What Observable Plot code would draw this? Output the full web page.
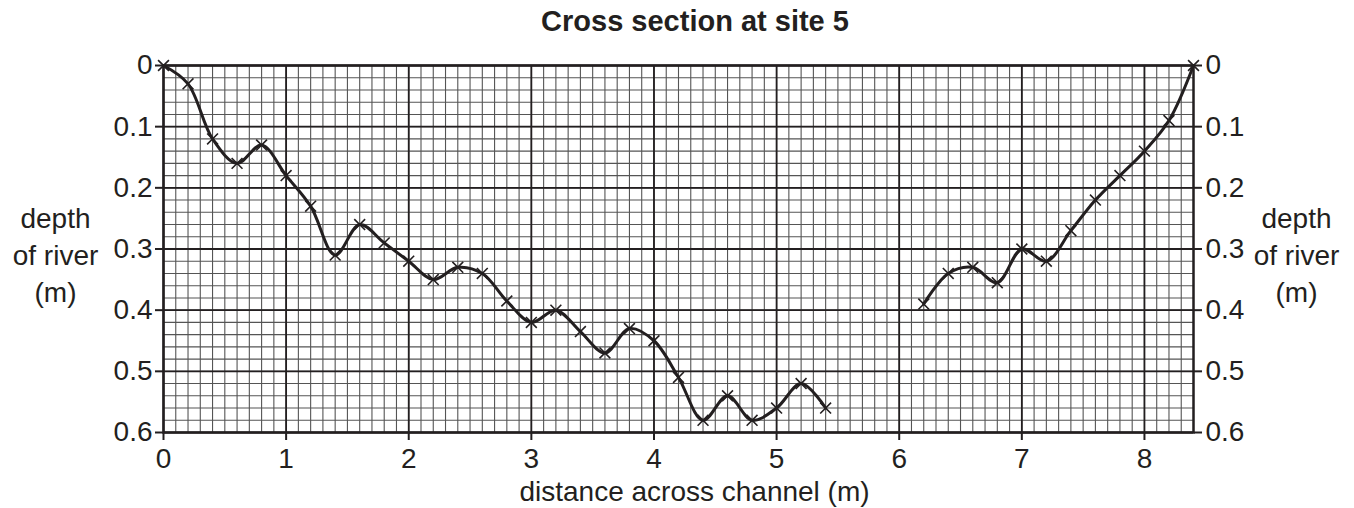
<!DOCTYPE html>
<html>
<head>
<meta charset="utf-8">
<script src="https://cdn.jsdelivr.net/npm/d3@7"></script>
<script src="https://cdn.jsdelivr.net/npm/@observablehq/plot@0.6"></script>
<style>
  body { margin: 0; background: #fff; font-family: "Liberation Sans", Arial, sans-serif; color: #231f20; }
  #title { height: 42px; line-height: 42px; font-size: 29px; font-weight: bold; text-align: center; width: 1354px; box-sizing: border-box; padding-left: 36px; }
  svg { overflow: visible; }
</style>
</head>
<body>
<div id="title">Cross section at site 5</div>
<div id="chart"></div>
<script>
// Left bank section (measured points)
const leftDistance = [0, 0.2, 0.4, 0.6, 0.8, 1.0, 1.2, 1.4, 1.6, 1.8, 2.0, 2.2, 2.4, 2.6, 2.8, 3.0, 3.2, 3.4, 3.6, 3.8, 4.0, 4.2, 4.4, 4.6, 4.8, 5.0, 5.2, 5.4];
const leftDepth    = [0, 0.03, 0.12, 0.16, 0.13, 0.18, 0.23, 0.31, 0.26, 0.29, 0.32, 0.35, 0.33, 0.34, 0.385, 0.42, 0.40, 0.435, 0.47, 0.43, 0.45, 0.51, 0.58, 0.54, 0.58, 0.56, 0.52, 0.56];
// Right bank section
const rightDistance = [6.2, 6.4, 6.6, 6.8, 7.0, 7.2, 7.4, 7.6, 7.8, 8.0, 8.2, 8.4];
const rightDepth    = [0.39, 0.34, 0.33, 0.355, 0.30, 0.32, 0.27, 0.22, 0.18, 0.14, 0.09, 0];

const xTicks = [0, 1, 2, 3, 4, 5, 6, 7, 8];
const xTickLabels = ["0", "1", "2", "3", "4", "5", "6", "7", "8"];
const yTicks = [0, 0.1, 0.2, 0.3, 0.4, 0.5, 0.6];
const yTickLabels = ["0", "0.1", "0.2", "0.3", "0.4", "0.5", "0.6"];

const xLabel = "distance across channel (m)";
const yLabel = "depth\nof river\n(m)";

const leftData = leftDistance.map((d, i) => ({distance: d, depth: leftDepth[i]}));
const rightData = rightDistance.map((d, i) => ({distance: d, depth: rightDepth[i]}));

const minorX = d3.range(0, 85, 1).map(i => i / 10);
const minorY = d3.range(0, 31, 1).map(i => i / 50);

const ink = "#231f20";

const chart = Plot.plot({
  width: 1354,
  height: 466,
  marginTop: 23,
  marginBottom: 76,
  marginLeft: 163,
  marginRight: 161,
  style: { fontFamily: "'Liberation Sans', Arial, sans-serif", fontSize: "28px", color: ink, background: "#fff", overflow: "visible" },
  x: { domain: [0, 8.4] },
  y: { domain: [0, 0.6], reverse: true },
  marks: [
    Plot.gridX(minorX, { stroke: "#555", strokeOpacity: 1, strokeWidth: 1.1 }),
    Plot.gridY(minorY, { stroke: "#555", strokeOpacity: 1, strokeWidth: 1.1 }),
    Plot.gridX(xTicks, { stroke: ink, strokeOpacity: 1, strokeWidth: 1.8 }),
    Plot.gridY(yTicks, { stroke: ink, strokeOpacity: 1, strokeWidth: 1.8 }),
    Plot.frame({ stroke: ink, strokeWidth: 2.5 }),
    Plot.axisX({ ticks: xTicks, tickFormat: d => xTickLabels[xTicks.indexOf(d)], tickSize: 8, tickPadding: 8, label: null, stroke: ink, strokeWidth: 2, fontSize: 28 }),
    Plot.axisY({ anchor: "left", ticks: yTicks, tickFormat: d => yTickLabels[yTicks.indexOf(d)], tickSize: 8, tickPadding: 3, label: null, strokeWidth: 2, fontSize: 28 }),
    Plot.axisY({ anchor: "right", ticks: yTicks, tickFormat: d => yTickLabels[yTicks.indexOf(d)], tickSize: 8, tickPadding: 4, label: null, strokeWidth: 2, fontSize: 28 }),
    Plot.text([xLabel], { frameAnchor: "bottom", dx: 16, dy: 68, fontSize: 28, fill: ink, lineAnchor: "bottom" }),
    Plot.text([yLabel], { frameAnchor: "left", dx: -108, dy: 4, fontSize: 28, fill: ink, textAnchor: "middle", lineHeight: 1.33 }),
    Plot.text([yLabel], { frameAnchor: "right", dx: 103, dy: 4, fontSize: 28, fill: ink, textAnchor: "middle", lineHeight: 1.33 }),
    Plot.line(leftData, { x: "distance", y: "depth", curve: "catmull-rom", stroke: ink, strokeWidth: 3 }),
    Plot.line(rightData, { x: "distance", y: "depth", curve: "catmull-rom", stroke: ink, strokeWidth: 3 }),
    Plot.dot(leftData, { x: "distance", y: "depth", symbol: "times", r: 5, stroke: ink, strokeWidth: 1.6 }),
    Plot.dot(rightData, { x: "distance", y: "depth", symbol: "times", r: 5, stroke: ink, strokeWidth: 1.6 })
  ]
});
document.getElementById("chart").appendChild(chart);
</script>
</body>
</html>
